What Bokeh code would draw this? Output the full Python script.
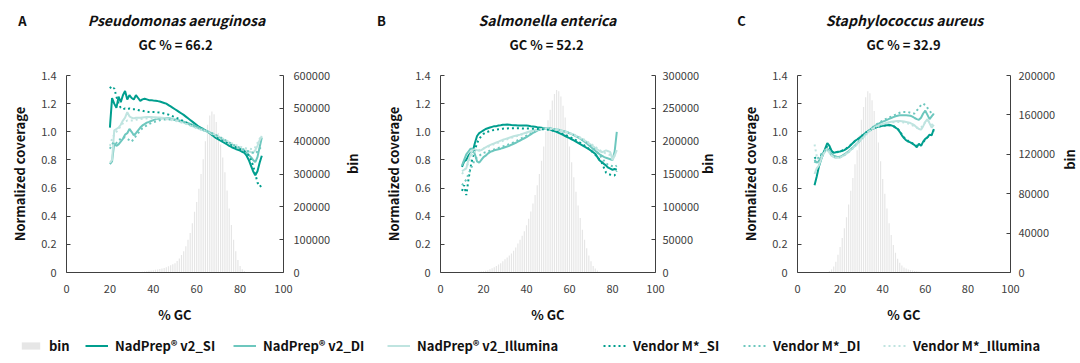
import math
from bokeh.plotting import figure
from bokeh.models import (Range1d, LinearAxis, FixedTicker, NumeralTickFormatter,
                          CustomJSTickFormatter, Label, Legend, LegendItem)
from bokeh.layouts import row, column
from bokeh.embed import file_html
from bokeh.resources import INLINE

# ---------------- data ----------------
LEFT_TICKS = [0, 0.2, 0.4, 0.6, 0.8, 1.0, 1.2, 1.4]
X_TICKS = [0, 20, 40, 60, 80, 100]

# Panel A - Pseudomonas aeruginosa (GC 20..90)
gc_a = list(range(20, 91))
si_a = [1.03, 1.24, 1.20, 1.17, 1.25, 1.21, 1.26, 1.29, 1.23, 1.26,
        1.24, 1.23, 1.26, 1.24, 1.22, 1.23, 1.235, 1.23, 1.225, 1.225,
        1.222, 1.22, 1.218, 1.215, 1.21, 1.205, 1.20, 1.19, 1.18, 1.17,
        1.16, 1.15, 1.14, 1.13, 1.12, 1.108, 1.096, 1.084, 1.072, 1.06,
        1.048, 1.036, 1.028, 1.02, 1.01, 1.0, 0.99, 0.978, 0.966, 0.955,
        0.946, 0.937, 0.928, 0.919, 0.91, 0.90, 0.892, 0.885, 0.878, 0.872,
        0.866, 0.858, 0.85, 0.83, 0.80, 0.76, 0.72, 0.69, 0.72, 0.78,
        0.83]
di_a = [0.77, 0.79, 0.92, 0.90, 0.91, 0.93, 0.95, 0.98, 0.99, 1.02,
        1.00, 0.975, 0.99, 1.01, 1.03, 1.045, 1.055, 1.065, 1.07, 1.077,
        1.083, 1.088, 1.092, 1.095, 1.097, 1.098, 1.098, 1.096, 1.094, 1.09,
        1.087, 1.083, 1.08, 1.076, 1.072, 1.067, 1.062, 1.056, 1.05, 1.043,
        1.036, 1.03, 1.023, 1.016, 1.01, 1.003, 0.995, 0.988, 0.98, 0.972,
        0.963, 0.955, 0.945, 0.935, 0.926, 0.917, 0.908, 0.90, 0.893, 0.886,
        0.879, 0.872, 0.865, 0.85, 0.835, 0.82, 0.80, 0.785, 0.82, 0.89,
        0.96]
il_a = [0.78, 0.80, 1.01, 1.02, 1.03, 1.05, 1.08, 1.10, 1.14, 1.11,
        1.10, 1.095, 1.10, 1.10, 1.10, 1.102, 1.104, 1.105, 1.105, 1.105,
        1.104, 1.103, 1.102, 1.101, 1.10, 1.098, 1.096, 1.093, 1.09, 1.087,
        1.083, 1.079, 1.075, 1.07, 1.065, 1.06, 1.054, 1.048, 1.041, 1.034,
        1.028, 1.022, 1.016, 1.01, 1.005, 1.0, 0.993, 0.985, 0.978, 0.97,
        0.962, 0.953, 0.944, 0.935, 0.927, 0.918, 0.91, 0.902, 0.895, 0.888,
        0.882, 0.876, 0.87, 0.865, 0.86, 0.856, 0.852, 0.87, 0.90, 0.94,
        0.97]
vsi_a = [1.32, 1.30, 1.31, 1.25, 1.20, 1.17, 1.16, 1.165, 1.16, 1.165,
         1.16, 1.16, 1.16, 1.155, 1.15, 1.15, 1.145, 1.145, 1.14, 1.14,
         1.14, 1.14, 1.138, 1.136, 1.134, 1.13, 1.127, 1.122, 1.116, 1.11,
         1.104, 1.097, 1.09, 1.082, 1.074, 1.066, 1.058, 1.05, 1.043, 1.036,
         1.03, 1.024, 1.018, 1.012, 1.006, 1.0, 0.993, 0.985, 0.977, 0.969,
         0.96, 0.951, 0.942, 0.933, 0.924, 0.915, 0.907, 0.899, 0.891, 0.884,
         0.877, 0.87, 0.862, 0.85, 0.83, 0.80, 0.76, 0.70, 0.64, 0.61,
         0.62]
vdi_a = [0.88, 0.91, 0.93, 0.92, 0.94, 0.95, 0.96, 0.96, 0.95, 0.94,
         0.93, 0.95, 0.97, 0.99, 1.01, 1.025, 1.035, 1.045, 1.055, 1.062,
         1.068, 1.073, 1.078, 1.082, 1.085, 1.087, 1.088, 1.088, 1.087, 1.085,
         1.083, 1.08, 1.077, 1.073, 1.069, 1.064, 1.059, 1.053, 1.047, 1.04,
         1.034, 1.028, 1.021, 1.015, 1.008, 1.002, 0.996, 0.99, 0.983, 0.976,
         0.968, 0.96, 0.951, 0.942, 0.933, 0.924, 0.915, 0.907, 0.899, 0.892,
         0.885, 0.878, 0.872, 0.866, 0.86, 0.855, 0.85, 0.845, 0.86, 0.88,
         0.90]
vil_a = [0.90, 0.95, 0.98, 1.00, 1.02, 1.04, 1.06, 1.07, 1.08, 1.08,
         1.08, 1.08, 1.085, 1.088, 1.09, 1.092, 1.094, 1.095, 1.096, 1.096,
         1.096, 1.096, 1.095, 1.094, 1.093, 1.091, 1.089, 1.087, 1.084, 1.081,
         1.078, 1.074, 1.07, 1.066, 1.061, 1.056, 1.051, 1.045, 1.039, 1.033,
         1.027, 1.021, 1.015, 1.01, 1.005, 1.0, 0.995, 0.989, 0.982, 0.975,
         0.968, 0.96, 0.952, 0.944, 0.936, 0.928, 0.92, 0.913, 0.906, 0.9,
         0.894, 0.889, 0.885, 0.882, 0.88, 0.878, 0.876, 0.89, 0.92, 0.95,
         0.97]
bin_x_a = list(range(35, 84))
bin_a = [2000, 3000, 4000, 5000, 6000, 7000, 8000, 9500, 11000, 12500,
         14000, 16000, 19000, 22000, 25000, 28000, 35000, 43000, 53000, 65000,
         80000, 100000, 120000, 150000, 185000, 215000, 255000, 300000, 345000, 400000,
         450000, 478000, 490000, 482000, 458000, 425000, 390000, 350000, 305000, 250000,
         195000, 145000, 100000, 65000, 38000, 20000, 10000, 4000, 1500]

# Panel B - Salmonella enterica (GC 10..82)
gc_b = list(range(10, 83))
si_b = [0.75, 0.79, 0.80, 0.83, 0.85, 0.86, 0.92, 0.97, 0.99, 1.0,
        1.01, 1.02, 1.025, 1.03, 1.035, 1.04, 1.04, 1.045, 1.047, 1.05,
        1.05, 1.052, 1.05, 1.048, 1.047, 1.046, 1.045, 1.045, 1.045, 1.045,
        1.045, 1.043, 1.04, 1.038, 1.036, 1.033, 1.031, 1.029, 1.026, 1.023,
        1.02, 1.016, 1.011, 1.005, 0.999, 0.992, 0.985, 0.978, 0.97, 0.962,
        0.955, 0.947, 0.939, 0.93, 0.921, 0.912, 0.903, 0.894, 0.886, 0.876,
        0.866, 0.855, 0.843, 0.82, 0.796, 0.785, 0.772, 0.76, 0.745, 0.738,
        0.73, 0.735, 0.73]
di_b = [0.76, 0.80, 0.84, 0.86, 0.88, 0.88, 0.84, 0.79, 0.78, 0.80,
        0.82, 0.83, 0.845, 0.855, 0.862, 0.868, 0.872, 0.876, 0.88, 0.885,
        0.89, 0.895, 0.90, 0.908, 0.915, 0.922, 0.93, 0.938, 0.946, 0.954,
        0.962, 0.972, 0.982, 0.992, 1.0, 1.008, 1.015, 1.02, 1.024, 1.026,
        1.026, 1.025, 1.022, 1.02, 1.017, 1.014, 1.01, 1.006, 1.002, 0.997,
        0.99, 0.983, 0.976, 0.968, 0.96, 0.951, 0.941, 0.93, 0.918, 0.905,
        0.892, 0.878, 0.865, 0.852, 0.84, 0.83, 0.822, 0.815, 0.81, 0.805,
        0.80, 0.86, 1.0]
il_b = [0.72, 0.73, 0.74, 0.80, 0.84, 0.87, 0.875, 0.87, 0.865, 0.87,
        0.88, 0.89, 0.898, 0.905, 0.912, 0.918, 0.924, 0.93, 0.937, 0.943,
        0.948, 0.953, 0.958, 0.963, 0.968, 0.972, 0.976, 0.98, 0.985, 0.99,
        0.995, 1.0, 1.004, 1.008, 1.012, 1.015, 1.018, 1.02, 1.022, 1.023,
        1.023, 1.022, 1.02, 1.018, 1.015, 1.012, 1.008, 1.004, 1.0, 0.995,
        0.99, 0.985, 0.978, 0.971, 0.963, 0.955, 0.947, 0.938, 0.928, 0.918,
        0.907, 0.896, 0.885, 0.874, 0.863, 0.855, 0.86, 0.868, 0.862, 0.855,
        0.80, 0.83, 0.87]
vsi_b = [0.58, 0.62, 0.55, 0.66, 0.75, 0.82, 0.87, 0.92, 0.95, 0.97,
         0.985, 0.995, 1.0, 1.005, 1.01, 1.013, 1.016, 1.018, 1.02, 1.022,
         1.023, 1.024, 1.025, 1.025, 1.025, 1.025, 1.025, 1.025, 1.024, 1.024,
         1.023, 1.023, 1.022, 1.022, 1.021, 1.02, 1.02, 1.019, 1.018, 1.017,
         1.015, 1.012, 1.009, 1.005, 1.0, 0.995, 0.99, 0.984, 0.978, 0.971,
         0.964, 0.956, 0.948, 0.94, 0.931, 0.922, 0.912, 0.902, 0.891, 0.879,
         0.866, 0.852, 0.837, 0.82, 0.80, 0.78, 0.745, 0.71, 0.70, 0.695,
         0.69, 0.69, 0.72]
vdi_b = [0.62, 0.64, 0.66, 0.70, 0.73, 0.77, 0.80, 0.82, 0.83, 0.84,
         0.85, 0.855, 0.86, 0.865, 0.87, 0.875, 0.88, 0.885, 0.89, 0.895,
         0.90, 0.906, 0.912, 0.918, 0.925, 0.932, 0.94, 0.948, 0.956, 0.964,
         0.972, 0.98, 0.988, 0.996, 1.003, 1.01, 1.015, 1.019, 1.022, 1.024,
         1.024, 1.023, 1.021, 1.019, 1.016, 1.013, 1.009, 1.005, 1.0, 0.995,
         0.99, 0.984, 0.977, 0.97, 0.962, 0.953, 0.943, 0.933, 0.922, 0.91,
         0.897, 0.883, 0.868, 0.852, 0.835, 0.815, 0.795, 0.775, 0.765, 0.76,
         0.755, 0.75, 0.76]
vil_b = [0.70, 0.72, 0.75, 0.78, 0.81, 0.84, 0.86, 0.87, 0.87, 0.875,
         0.88, 0.887, 0.894, 0.90, 0.906, 0.912, 0.918, 0.924, 0.93, 0.936,
         0.942, 0.947, 0.952, 0.957, 0.962, 0.967, 0.972, 0.977, 0.982, 0.987,
         0.992, 0.997, 1.001, 1.005, 1.009, 1.013, 1.016, 1.019, 1.021, 1.022,
         1.022, 1.021, 1.02, 1.018, 1.016, 1.013, 1.01, 1.006, 1.002, 0.998,
         0.993, 0.988, 0.982, 0.975, 0.968, 0.96, 0.952, 0.943, 0.934, 0.924,
         0.914, 0.903, 0.892, 0.881, 0.87, 0.86, 0.852, 0.846, 0.84, 0.835,
         0.83, 0.83, 0.85]
bin_x_b = list(range(18, 75))
bin_b = [1000, 1500, 2000, 2500, 3500, 5000, 6500, 8000, 10000, 12000,
         14000, 17000, 20000, 23000, 26000, 29000, 33000, 38000, 44000, 50000,
         56000, 63000, 72000, 82000, 93000, 105000, 118000, 133000, 150000, 170000,
         192000, 215000, 232000, 248000, 262000, 272000, 278000, 276000, 268000, 254000,
         236000, 215000, 192000, 168000, 145000, 123000, 102000, 83000, 65000, 50000,
         37000, 26000, 17000, 10000, 6000, 3000, 1000]

# Panel C - Staphylococcus aureus (GC 8..64)
gc_c = list(range(8, 65))
si_c = [0.62, 0.68, 0.75, 0.80, 0.84, 0.88, 0.92, 0.90, 0.865, 0.85,
        0.855, 0.858, 0.86, 0.865, 0.87, 0.88, 0.89, 0.905, 0.92, 0.935,
        0.945, 0.955, 0.968, 0.98, 0.992, 1.003, 1.012, 1.02, 1.026, 1.032,
        1.037, 1.04, 1.043, 1.045, 1.047, 1.048, 1.046, 1.04, 1.03, 1.02,
        1.0, 0.975, 0.955, 0.94, 0.93, 0.925, 0.915, 0.905, 0.89, 0.915,
        0.90, 0.93, 0.95, 0.96, 0.98, 0.975, 1.02]
di_c = [0.80, 0.78, 0.79, 0.82, 0.85, 0.87, 0.88, 0.86, 0.84, 0.83,
        0.825, 0.82, 0.822, 0.83, 0.84, 0.85, 0.862, 0.875, 0.888, 0.902,
        0.918, 0.935, 0.952, 0.968, 0.984, 1.0, 1.014, 1.027, 1.038, 1.048,
        1.057, 1.065, 1.072, 1.078, 1.085, 1.092, 1.098, 1.104, 1.11, 1.114,
        1.117, 1.118, 1.118, 1.117, 1.116, 1.114, 1.108, 1.098, 1.09, 1.085,
        1.10, 1.13, 1.15, 1.12, 1.09, 1.11, 1.13]
il_c = [0.70, 0.74, 0.76, 0.80, 0.84, 0.86, 0.88, 0.85, 0.83, 0.82,
        0.815, 0.815, 0.818, 0.825, 0.835, 0.845, 0.857, 0.87, 0.884, 0.898,
        0.914, 0.93, 0.947, 0.963, 0.98, 0.995, 1.008, 1.02, 1.03, 1.038,
        1.045, 1.05, 1.055, 1.06, 1.064, 1.068, 1.071, 1.073, 1.075, 1.076,
        1.076, 1.075, 1.073, 1.07, 1.067, 1.062, 1.055, 1.045, 1.03, 1.02,
        1.015, 1.04, 1.07, 1.09, 1.06, 1.03, 1.05]
vsi_c = [0.82, 0.80, 0.80, 0.83, 0.85, 0.87, 0.90, 0.89, 0.86, 0.85,
         0.852, 0.856, 0.86, 0.866, 0.872, 0.882, 0.893, 0.907, 0.921, 0.934,
         0.946, 0.957, 0.969, 0.981, 0.993, 1.003, 1.011, 1.019, 1.025, 1.031,
         1.036, 1.04, 1.043, 1.045, 1.046, 1.047, 1.045, 1.04, 1.032, 1.022,
         1.005, 0.98, 0.96, 0.945, 0.935, 0.928, 0.918, 0.908, 0.9, 0.91,
         0.905, 0.925, 0.945, 0.96, 0.975, 0.98, 1.01]
vdi_c = [0.78, 0.80, 0.82, 0.84, 0.85, 0.87, 0.88, 0.86, 0.835, 0.825,
         0.82, 0.818, 0.82, 0.826, 0.835, 0.846, 0.858, 0.871, 0.885, 0.9,
         0.916, 0.933, 0.95, 0.967, 0.983, 1.0, 1.015, 1.029, 1.041, 1.052,
         1.062, 1.071, 1.079, 1.087, 1.094, 1.101, 1.108, 1.115, 1.122, 1.13,
         1.135, 1.14, 1.14, 1.14, 1.14, 1.135, 1.13, 1.13, 1.15, 1.17,
         1.19, 1.20, 1.19, 1.17, 1.15, 1.13, 1.12]
vil_c = [0.91, 0.83, 0.80, 0.82, 0.84, 0.86, 0.87, 0.85, 0.83, 0.82,
         0.815, 0.815, 0.818, 0.824, 0.833, 0.843, 0.855, 0.868, 0.882, 0.896,
         0.912, 0.928, 0.945, 0.961, 0.978, 0.993, 1.006, 1.018, 1.028, 1.036,
         1.043, 1.048, 1.053, 1.057, 1.061, 1.064, 1.066, 1.068, 1.069, 1.07,
         1.07, 1.068, 1.066, 1.062, 1.058, 1.052, 1.045, 1.038, 1.03, 1.025,
         1.03, 1.05, 1.07, 1.08, 1.07, 1.05, 1.06]
bin_x_c = list(range(14, 61))
bin_c = [500, 1500, 3000, 6000, 11000, 18000, 26000, 35000, 45000, 56000,
         69000, 83000, 96000, 110000, 124000, 139000, 155000, 168000, 178000, 184000,
         182000, 175000, 164000, 150000, 132000, 113000, 95000, 80000, 65000, 50000,
         38000, 28000, 20000, 14000, 10000, 7000, 5000, 4000, 3000, 2500,
         2000, 1500, 1200, 1000, 700, 500, 300]

SERIES_NAMES = ["NadPrep\u00ae v2_SI", "NadPrep\u00ae v2_DI", "NadPrep\u00ae v2_Illumina",
                "Vendor M*_SI", "Vendor M*_DI", "Vendor M*_Illumina"]
PANEL_LETTERS = ["A", "B", "C"]
SPECIES = ["Pseudomonas aeruginosa", "Salmonella enterica", "Staphylococcus aureus"]
GC_TEXTS = ["GC % = 66.2", "GC % = 52.2", "GC % = 32.9"]

# ---------------- style ----------------
FONT = "Noto Sans CJK SC"
C_SI = "#009E8E"
C_DI = "#6DC7BE"
C_IL = "#BFE4E0"
COLORS = [C_SI, C_DI, C_IL, C_SI, C_DI, C_IL]
DASHES = ["solid", "solid", "solid", "2 3", "2 3", "2 3"]
BIN_COLOR = "#E6E6E6"
AX_COLOR = "#404040"
TXT = "#111111"
TITLE_H = 55
PANEL_H = 278


def bare(width, height, xr, yr):
    f = figure(width=width, height=height, output_backend="svg", toolbar_location=None,
               x_axis_type=None, y_axis_type=None, x_range=Range1d(*xr), y_range=Range1d(*yr),
               min_border=0)
    f.title = None
    f.outline_line_color = None
    f.background_fill_color = None
    f.border_fill_color = None
    return f


# title strip (data units == pixels)
tfig = bare(1080, TITLE_H, (0, 1080), (0, TITLE_H))
letter_x = [22, 381, 741]
title_cx = [176, 547, 904]
for lx, cx, let, sp, gct in zip(letter_x, title_cx, PANEL_LETTERS, SPECIES, GC_TEXTS):
    tfig.add_layout(Label(x=lx, y=TITLE_H - 19.5, text=let, text_font=FONT, text_font_style="bold",
                          text_font_size="13px", text_color=TXT, text_align="center",
                          text_baseline="middle"))
    tfig.add_layout(Label(x=cx, y=TITLE_H - 19.5, text=sp, text_font=FONT,
                          text_font_style="bold italic", text_font_size="14px", text_color=TXT,
                          text_align="center", text_baseline="middle"))
    tfig.add_layout(Label(x=cx - 1, y=TITLE_H - 44, text=gct, text_font=FONT,
                          text_font_style="bold", text_font_size="13px", text_color=TXT,
                          text_align="center", text_baseline="middle"))


def make_panel(width, left, frame_w, gc, series, bx, by, bin_max, bin_step,
               rt_standoff, rl_standoff, bin_label):
    right = width - left - frame_w
    p = figure(width=width, height=PANEL_H, output_backend="svg", toolbar_location=None,
               x_range=Range1d(0, 100), y_range=Range1d(0, 1.4),
               x_axis_type=None, y_axis_type=None,
               min_border_left=left, min_border_right=right,
               min_border_top=20, min_border_bottom=61)
    p.title = None
    p.outline_line_color = None
    p.background_fill_color = None
    p.border_fill_color = None
    p.extra_y_ranges = {"bin": Range1d(0, bin_max)}

    common = dict(axis_line_color=AX_COLOR, major_tick_line_color=AX_COLOR,
                  minor_tick_line_color=None, major_label_text_font=FONT,
                  major_label_text_font_size="11px", major_label_text_color=AX_COLOR,
                  axis_label_text_font=FONT, axis_label_text_font_style="bold",
                  axis_label_text_font_size="13px", axis_label_text_color=TXT)
    xa = LinearAxis(ticker=FixedTicker(ticks=X_TICKS), major_tick_in=0, major_tick_out=0,
                    major_label_standoff=12, axis_label="% GC", axis_label_standoff=9, **common)
    p.add_layout(xa, "below")
    ya = LinearAxis(ticker=FixedTicker(ticks=LEFT_TICKS), major_tick_in=4, major_tick_out=0,
                    formatter=CustomJSTickFormatter(code="return tick === 0 ? '0' : tick.toFixed(1);"),
                    major_label_standoff=10, axis_label="Normalized coverage",
                    axis_label_standoff=9, **common)
    p.add_layout(ya, "left")
    yb = LinearAxis(y_range_name="bin", ticker=FixedTicker(ticks=list(range(0, bin_max + 1, bin_step))),
                    formatter=NumeralTickFormatter(format="0"), major_tick_in=4, major_tick_out=0,
                    major_label_standoff=rt_standoff, axis_label=bin_label,
                    axis_label_standoff=rl_standoff, **common)
    if "axis_label_orientation" in LinearAxis.properties():
        yb.axis_label_orientation = math.pi / 2
    p.add_layout(yb, "right")

    p.vbar(x=bx, top=by, width=0.55, y_range_name="bin", fill_color=BIN_COLOR, line_color=None)
    for vals, col, dash in zip(series, COLORS, DASHES):
        p.line(gc, vals, line_color=col, line_width=2, line_dash=dash)
    return p


pa = make_panel(381, 66, 217, gc_a, [si_a, di_a, il_a, vsi_a, vdi_a, vil_a],
                bin_x_a, bin_a, 600000, 100000, 10, 19, "bin")
pb = make_panel(357, 58, 216, gc_b, [si_b, di_b, il_b, vsi_b, vdi_b, vil_b],
                bin_x_b, bin_b, 300000, 50000, 7, 5, "bin")
pc = make_panel(320, 58, 214, gc_c, [si_c, di_c, il_c, vsi_c, vdi_c, vil_c],
                bin_x_c, bin_c, 200000, 40000, 8, 0, "")

# narrow strip at the far right carrying panel C's "bin" title
STRIP_W = 22
cstrip = bare(STRIP_W, PANEL_H, (0, STRIP_W), (0, PANEL_H))
cstrip.add_layout(Label(x=11, y=PANEL_H - 20 - 98.5, text="bin", angle=math.pi / 2,
                        text_font=FONT, text_font_style="bold", text_font_size="13px",
                        text_color=TXT, text_align="center", text_baseline="middle"))

# legend strip: one legend per item, placed where the reference shows it
LEG_H = 24
leg = bare(1080, LEG_H, (0, 1), (0, 1))
leg_x = [19, 85, 233, 387, 603, 743, 883]
r_bin = leg.vbar(x=[-5], top=[-5], width=0.5, fill_color=BIN_COLOR, line_color=None)
renderers = [r_bin]
for col, dash in zip(COLORS, DASHES):
    renderers.append(leg.line(x=[-5, -4], y=[-5, -4], line_color=col, line_width=2, line_dash=dash))
for lx, name, r in zip(leg_x, ["bin"] + SERIES_NAMES, renderers):
    lg = Legend(items=[LegendItem(label=name, renderers=[r])], location=(lx, 2),
                orientation="horizontal", margin=0, padding=0, spacing=0,
                label_standoff=7, glyph_width=23, glyph_height=9, label_height=20,
                label_text_font=FONT, label_text_font_style="bold", label_text_font_size="13px",
                label_text_color=TXT, border_line_color=None, background_fill_alpha=0)
    leg.add_layout(lg)

layout = column(tfig, row(pa, pb, pc, cstrip), leg)
open("out.html", "w").write(file_html(layout, INLINE))
